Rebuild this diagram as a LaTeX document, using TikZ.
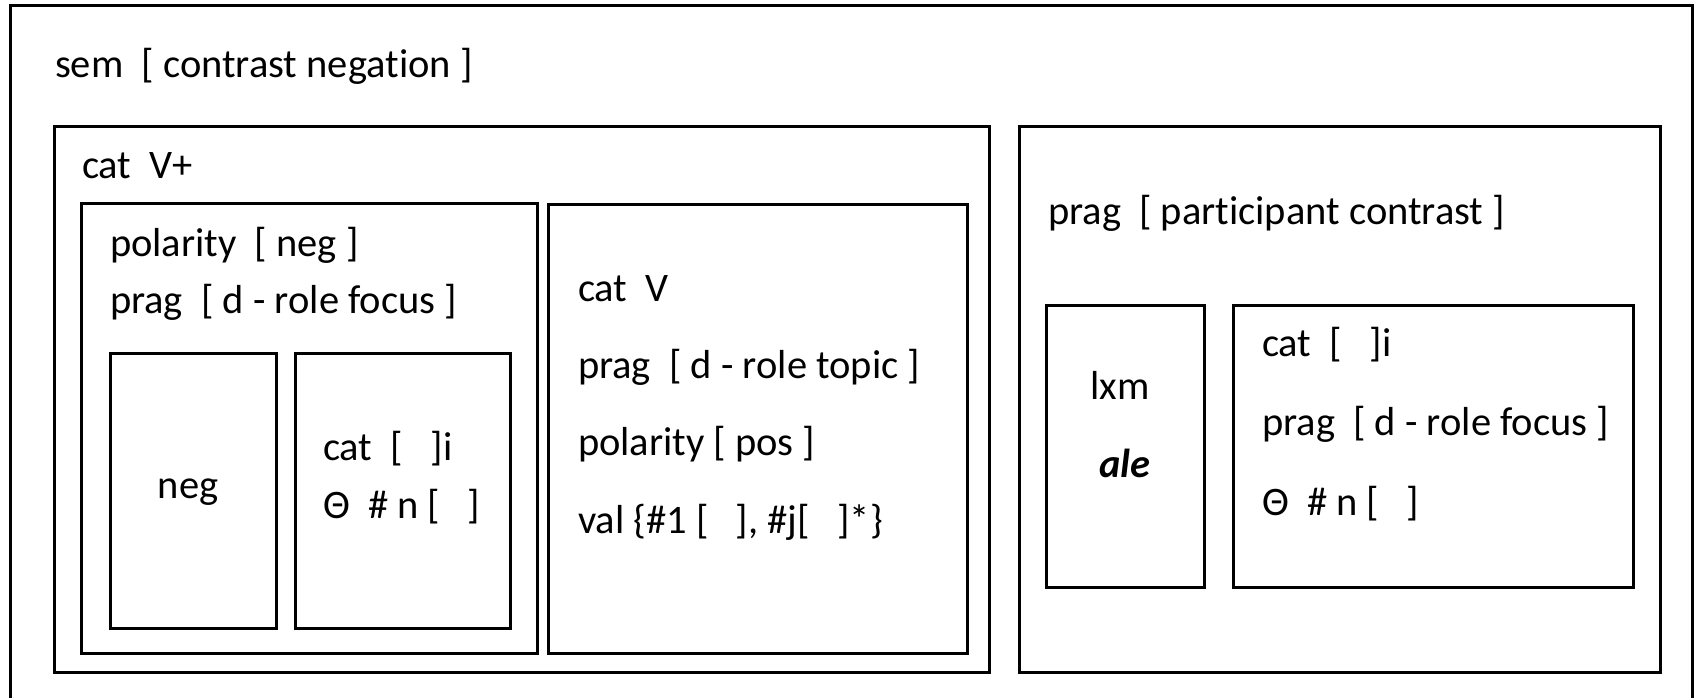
\documentclass[tikz,border=0pt]{standalone}
\usepackage{fontspec}
\setmainfont{Carlito}[Ligatures=NoCommon]
\begin{document}
\begin{tikzpicture}[x=1pt,y=-1pt,
  boxline/.style={draw=black,line width=3pt},
  lbl/.style={anchor=base west,inner sep=0pt,outer sep=0pt,font=\fontsize{40.5}{48}\selectfont,text=black},
  clbl/.style={anchor=base,inner sep=0pt,outer sep=0pt,font=\fontsize{40.5}{48}\selectfont,text=black}]
\useasboundingbox (0,0) rectangle (1694,698);
% outer frame (bottom edge is cut off)
\draw[boxline] (10,710) -- (10,6) -- (1692,6) -- (1692,710);
% boxes
\draw[boxline] (54,127) rectangle (989,672);
\draw[boxline] (81,203) rectangle (537,653);
\draw[boxline] (110,353) rectangle (276,628);
\draw[boxline] (295,353) rectangle (510,628);
\draw[boxline] (548,204) rectangle (967,653);
\draw[boxline] (1019,127) rectangle (1660,672);
\draw[boxline] (1046,305) rectangle (1204,587);
\draw[boxline] (1233,305) rectangle (1633,587);
% texts
\node[lbl] (sem) at (55,78) {sem~~[ contrast negation ]};
\node[lbl] (catvp) at (82,178) {cat~~V+};
\node[lbl] (pol1) at (110,256) {polarity~~[ neg ]};
\node[lbl] (prag1) at (110,313) {prag~~[ d - role focus ]};
\node[clbl] (neg) at (188,498) {neg};
\node[lbl] (cati1) at (323,460) {cat~~[~~~]i};
\node[lbl] (theta1) at (323,518) {Θ~~\# n [~~~]};
\node[lbl] (catv) at (578,301) {cat~~V};
\node[lbl] (prag2) at (578,378) {prag~~[ d - role topic ]};
\node[lbl] (pol2) at (578,455) {polarity [ pos ]};
\node[lbl] (val) at (578,533) {val \{\#1 [~~~], \#j[~~~]*\}};
\node[lbl] (prag3) at (1048,224) {prag~~[ participant contrast ]};
\node[clbl] (lxm) at (1120,399) {lxm};
\node[clbl] (ale) at (1125,477) {\textbf{\textit{ale}}};
\node[lbl] (cati2) at (1262,356) {cat~~[~~~]i};
\node[lbl] (prag4) at (1262,435) {prag~~[ d - role focus ]};
\node[lbl] (theta2) at (1262,515) {Θ~~\# n [~~~]};
\end{tikzpicture}
\end{document}
